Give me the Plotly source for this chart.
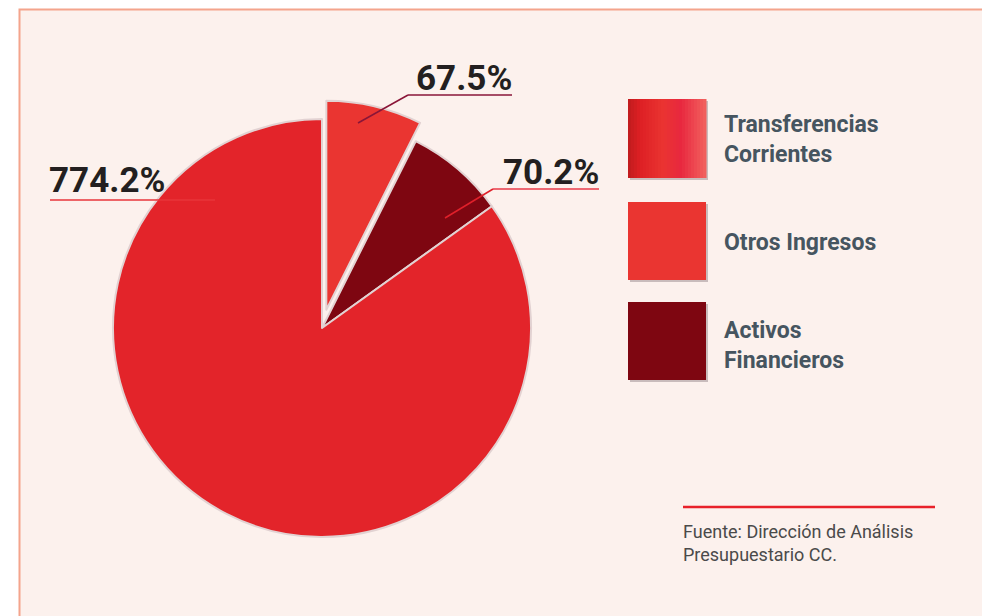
import plotly.graph_objects as go

# ---- data ----
categories = ["Otros Ingresos", "Activos Financieros", "Transferencias Corrientes"]
values = [67.5, 70.2, 774.2]
value_labels = ["67.5%", "70.2%", "774.2%"]
legend_order = ["Transferencias<br>Corrientes", "Otros Ingresos", "Activos<br>Financieros"]
source_lines = ["Fuente: Dirección de Análisis", "Presupuestario CC."]

W, H = 990, 616
OFF = 8  # page body margin offset
def px(x):
    return (x - OFF) / W
def py(y):
    return 1 - (y - OFF) / H

slice_colors = ["#ea3531", "#7e0611", "#e3242a"]
pull = [0.09, 0, 0]

# pie geometry (pixel-based domain)
cx, cy, r = 322, 328, 209
half = r * (1 + max(pull))
dom_x = [px(cx - half), px(cx + half)]
dom_y = [py(cy + half), py(cy - half)]

fig = go.Figure(go.Pie(
    labels=categories, values=values, sort=False, direction="clockwise",
    rotation=0, pull=pull, textinfo="none", showlegend=False,
    marker=dict(colors=slice_colors, line=dict(color="#e2d2d2", width=2)),
    domain=dict(x=dom_x, y=dom_y),
))

shapes = []
annotations = []
LBL_FONT = "Roboto, Liberation Sans, sans-serif"

# background panel
shapes.append(dict(type="rect", xref="paper", yref="paper", layer="below",
                   x0=px(19.5), x1=px(1010), y0=py(640), y1=py(9.5),
                   fillcolor="#fcf1ed", line=dict(color="#f4a48c", width=2)))

def line(x0, y0, x1, y1, color, width=1.5):
    shapes.append(dict(type="line", xref="paper", yref="paper", layer="above",
                       x0=px(x0), y0=py(y0), x1=px(x1), y1=py(y1),
                       line=dict(color=color, width=width)))

# value labels with underlines and leader lines
annotations.append(dict(text="<b>" + value_labels[0] + "</b>", x=px(514), y=py(78.5),
                        xanchor="right", yanchor="middle", showarrow=False,
                        font=dict(family=LBL_FONT, size=35, color="#231f20")))
line(408, 95, 512, 95, "#8a1538")
line(408, 95, 358, 123, "#8a1538")

annotations.append(dict(text="<b>" + value_labels[1] + "</b>", x=px(601), y=py(172.5),
                        xanchor="right", yanchor="middle", showarrow=False,
                        font=dict(family=LBL_FONT, size=35, color="#231f20")))
line(493, 189, 599, 189, "#ea3a48")
line(493, 189, 445, 218, "#e0202a")

annotations.append(dict(text="<b>" + value_labels[2] + "</b>", x=px(47), y=py(180),
                        xanchor="left", yanchor="middle", showarrow=False,
                        font=dict(family=LBL_FONT, size=35, color="#231f20")))
line(50, 200, 215, 200, "#e8343a")

# custom legend
def hexrgb(h):
    h = h.lstrip("#")
    return tuple(int(h[i:i + 2], 16) for i in (0, 2, 4))

def interp(stops, t):
    for (t0, c0), (t1, c1) in zip(stops, stops[1:]):
        if t0 <= t <= t1:
            f = (t - t0) / (t1 - t0) if t1 > t0 else 0
            a, b = hexrgb(c0), hexrgb(c1)
            return "rgb(%d,%d,%d)" % tuple(round(a[i] + (b[i] - a[i]) * f) for i in range(3))
    return stops[-1][1]

grad_stops = [(0, "#bf1b1d"), (0.15, "#dd1f24"), (0.45, "#ea3431"),
              (0.68, "#e8283f"), (1, "#f2625f")]

boxes = [(99, 178), (202, 280), (302, 380)]
bx0, bx1 = 628, 706
for i, (y0, y1) in enumerate(boxes):
    shapes.append(dict(type="rect", xref="paper", yref="paper", layer="above",
                       x0=px(bx0 + 2), x1=px(bx1 + 2), y0=py(y1 + 2), y1=py(y0 + 2),
                       fillcolor="#c9bcbc", line=dict(width=0)))
    if i == 0:
        n = 26
        for k in range(n):
            xa = bx0 + (bx1 - bx0) * k / n
            xb = bx0 + (bx1 - bx0) * (k + 1) / n
            shapes.append(dict(type="rect", xref="paper", yref="paper", layer="above",
                               x0=px(xa), x1=px(xb + 0.5), y0=py(y1), y1=py(y0),
                               fillcolor=interp(grad_stops, (k + 0.5) / n), line=dict(width=0)))
    else:
        shapes.append(dict(type="rect", xref="paper", yref="paper", layer="above",
                           x0=px(bx0), x1=px(bx1), y0=py(y1), y1=py(y0),
                           fillcolor=slice_colors[i - 1], line=dict(width=0)))

legend_centers = [139, 242, 345.5]
for txt, yc in zip(legend_order, legend_centers):
    annotations.append(dict(text="<b>" + txt + "</b>", x=px(722), y=py(yc),
                            xanchor="left", yanchor="middle", align="left", showarrow=False,
                            font=dict(family=LBL_FONT, size=23, color="#465560")))

# source note
line(683, 507, 935, 507, "#e8212a", 2.5)
for txt, yc in zip(source_lines, [531.5, 554.5]):
    annotations.append(dict(text=txt, x=px(681), y=py(yc), xanchor="left", yanchor="middle",
                            showarrow=False,
                            font=dict(family=LBL_FONT, size=18, color="#4a4a4a")))

fig.update_layout(width=W, height=H, margin=dict(l=0, r=0, t=0, b=0),
                  paper_bgcolor="white", plot_bgcolor="white",
                  shapes=shapes, annotations=annotations)

fig.write_html("out.html")
